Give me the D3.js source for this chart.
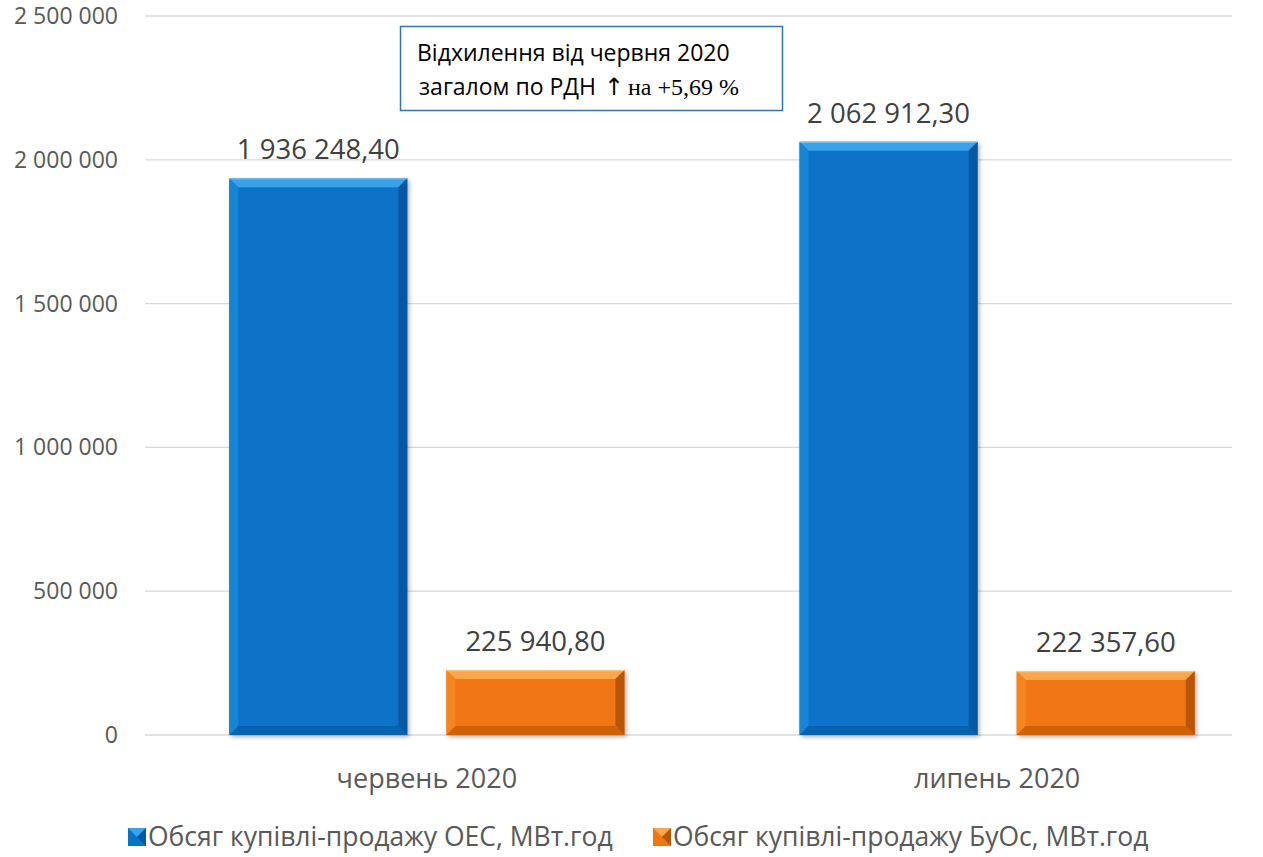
<!DOCTYPE html>
<html><head><meta charset="utf-8">
<script src="https://cdn.jsdelivr.net/npm/d3@7"></script>
<style>body{margin:0;background:#fff;} svg{display:block;}</style>
</head><body><svg id="c" width="1263" height="857"></svg>
<script>
const categories = ["червень 2020", "липень 2020"];
const seriesNames = ["Обсяг купівлі-продажу ОЕС, МВт.год", "Обсяг купівлі-продажу БуОс, МВт.год"];
const oesValues = [1936248.40, 2062912.30];
const buosValues = [225940.80, 222357.60];
const valueLabels = [["1 936 248,40", "225 940,80"], ["2 062 912,30", "222 357,60"]];
const yTicks = [0, 500000, 1000000, 1500000, 2000000, 2500000];
const annotationParts = ["Відхилення від червня 2020", "загалом по РДН", "↑", "на +5,69 %"];

const colors = [
  {base:"#0773c8", top:"#3aa2ea", left:"#1585d8", right:"#0559a0", bottom:"#0562ad"},
  {base:"#f07614", top:"#fba64a", left:"#f5861f", right:"#b85608", bottom:"#cf6208"}
];
const font = "'Open Sans', 'Noto Sans', sans-serif";
const serif = "'Liberation Serif', 'Times New Roman', serif";
const svg = d3.select("#c");
const y = d3.scaleLinear().domain([0, 2500000]).range([735, 16]);
const x0 = d3.scaleBand().domain(categories).range([142, 1282]).paddingInner(0.307).paddingOuter(0.153);
const x1 = d3.scaleBand().domain([0,1]).range([0, x0.bandwidth()]).paddingInner(0.18);

// grid
svg.append("g").selectAll("line").data(yTicks).join("line")
  .attr("x1", 145).attr("x2", 1232).attr("y1", d=>y(d)).attr("y2", d=>y(d))
  .attr("stroke", "#d9d9d9").attr("stroke-width", 1.3);
const fmt = d => d3.format(",")(d).replace(/,/g, " ");
svg.append("g").selectAll("text").data(yTicks).join("text")
  .attr("x", 118).attr("y", d=>y(d)+8).attr("text-anchor","end")
  .attr("font-family", font).attr("font-size", 23).attr("fill","#595959").text(fmt);

const data = categories.map((c,i)=>({c, vals:[oesValues[i], buosValues[i]], labels: valueLabels[i]}));
const defs = svg.append("defs");
const f = defs.append("filter").attr("id","sh").attr("x","-10%").attr("y","-10%").attr("width","130%").attr("height","130%");
f.append("feDropShadow").attr("dx",2).attr("dy",2).attr("stdDeviation",2).attr("flood-color","#000").attr("flood-opacity",0.3);

const g = svg.append("g");
data.forEach(d=>{
  d.vals.forEach((v,s)=>{
    const bx = x0(d.c)+x1(s), bw = x1.bandwidth(), by = y(v), bh = y(0)-y(v);
    const c = colors[s], b = 9;
    const bar = g.append("g");
    bar.append("rect").attr("x",bx).attr("y",by).attr("width",bw).attr("height",bh).attr("fill",c.base).attr("filter","url(#sh)");
    const pts = (a)=>a.map(p=>p.join(",")).join(" ");
    bar.append("polygon").attr("points", pts([[bx,by],[bx+bw,by],[bx+bw-b,by+b],[bx+b,by+b]])).attr("fill",c.top);
    bar.append("polygon").attr("points", pts([[bx,by],[bx+b,by+b],[bx+b,by+bh-b],[bx,by+bh]])).attr("fill",c.left);
    bar.append("polygon").attr("points", pts([[bx+bw,by],[bx+bw,by+bh],[bx+bw-b,by+bh-b],[bx+bw-b,by+b]])).attr("fill",c.right);
    bar.append("polygon").attr("points", pts([[bx,by+bh],[bx+bw,by+bh],[bx+bw-b,by+bh-b],[bx+b,by+bh-b]])).attr("fill",c.bottom);
    bar.append("rect").attr("x",bx).attr("y",by).attr("width",bw).attr("height",1.2).attr("fill","#ffffff").attr("opacity",0.35);
    g.append("text").attr("x", bx+bw/2).attr("y", by-19).attr("text-anchor","middle")
      .attr("font-family",font).attr("font-size",27.5).attr("fill","#404040").text(d.labels[s]);
  });
  g.append("text").attr("x", x0(d.c)+x0.bandwidth()/2).attr("y", 788).attr("text-anchor","middle")
    .attr("font-family",font).attr("font-size",27).attr("fill","#595959").text(d.c);
});

// annotation
const ann = svg.append("g");
ann.append("rect").attr("x",400.5).attr("y",26.5).attr("width",382).attr("height",84).attr("fill","#fff").attr("stroke","#2e75b6").attr("stroke-width",1.5);
ann.append("text").attr("x",417).attr("y",61).attr("font-family",font).attr("font-size",23).attr("fill","#000").text(annotationParts[0]);
const t2 = ann.append("text").attr("y",95).attr("font-family",font).attr("font-size",23).attr("fill","#000");
t2.append("tspan").attr("x",419).text(annotationParts[1]);
t2.append("tspan").attr("x",604).attr("font-family","'DejaVu Sans', sans-serif").attr("font-size",24).text(annotationParts[2]);
t2.append("tspan").attr("x",628).attr("font-family",serif).attr("font-size",24).text(annotationParts[3]);

// legend
const legX = [128, 653];
const leg = svg.append("g");
seriesNames.forEach((n,s)=>{
  const c = colors[s], lx = legX[s], ly = 828, sz = 18;
  leg.append("rect").attr("x",lx).attr("y",ly).attr("width",sz).attr("height",sz).attr("fill",c.base);
  leg.append("polygon").attr("points",`${lx},${ly} ${lx+sz},${ly} ${lx+sz/2},${ly+sz/2}`).attr("fill",c.top);
  leg.append("polygon").attr("points",`${lx+sz},${ly} ${lx+sz},${ly+sz} ${lx+sz/2},${ly+sz/2}`).attr("fill",c.right);
  leg.append("text").attr("x",lx+sz+2).attr("y",846).attr("font-family",font).attr("font-size",26.5).attr("fill","#595959").text(n);
});
</script></body></html>
